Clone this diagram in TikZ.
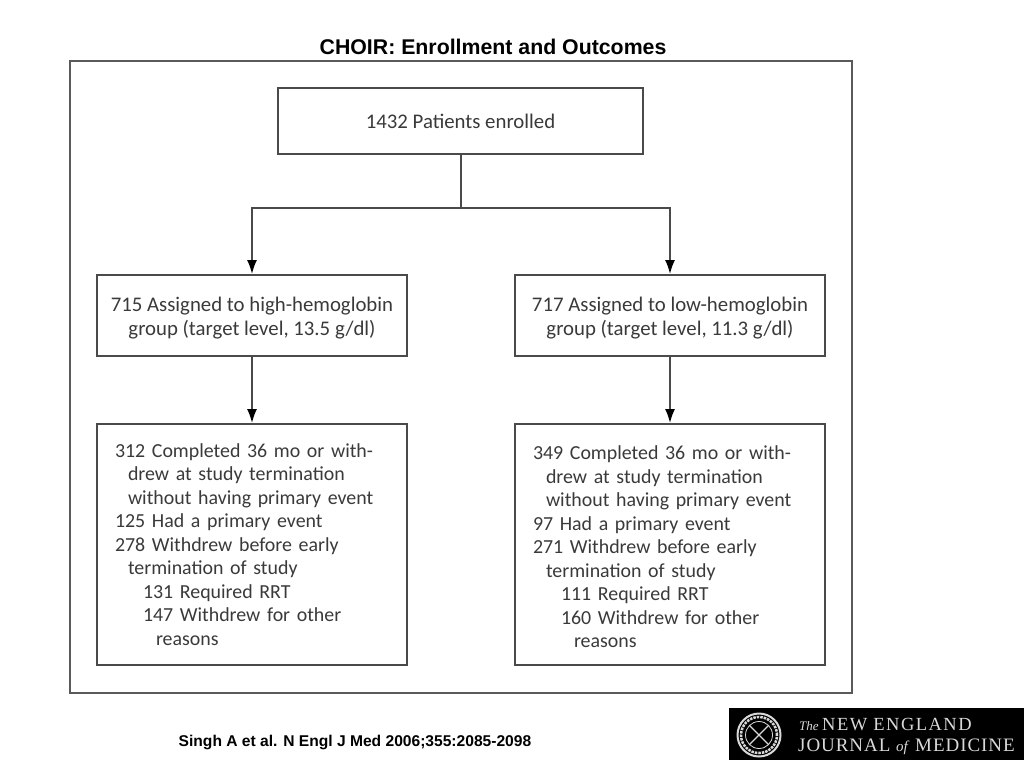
\documentclass[tikz,border=0pt]{standalone}
\usepackage{fontspec}
\setmainfont{Carlito}
\newfontfamily\headfont{Liberation Sans}
\newfontfamily\logofont{Liberation Serif}
\usetikzlibrary{arrows.meta,calc}
\definecolor{frameg}{HTML}{5A5A5A}
\definecolor{boxg}{HTML}{4A4A4A}
\definecolor{inkg}{HTML}{3A3A3A}
\newcommand{\ind}[2]{\hspace*{#1pt}#2\par}
\newcommand{\lowerstrut}{\rule{0pt}{19pt}}
\tikzset{
  x=1pt,y=-1pt,
  frame/.style={draw=frameg,line width=2.4pt,minimum width=782pt,minimum height=632pt,inner sep=0pt},
  flowbox/.style={draw=boxg,line width=1.9pt,inner sep=0pt,text=inkg,font=\fontsize{20.8}{24}\selectfont,align=center},
  shortbox/.style={flowbox,minimum width=310pt,minimum height=81pt},
  listbox/.style={flowbox,font=\fontsize{19.9}{23.5}\selectfont,minimum width=310pt,minimum height=241pt,align=left,text width=274pt},
  link/.style={draw=boxg,line width=1.8pt},
  arrowlink/.style={link,-{Latex[length=14pt,width=10pt,color=black]}},
  heading/.style={font=\headfont\bfseries,inner sep=0pt,text=black},
  logotext/.style={font=\logofont,text=white!85!black,inner sep=0pt,anchor=base west}
}
\begin{document}
\begin{tikzpicture}
\useasboundingbox (0,0) rectangle (1024,768);
\fill[white] (0,0) rectangle (1024,768);
\node[heading,font=\headfont\bfseries\fontsize{21.3}{24}\selectfont] (title) at (493,47) {CHOIR: Enrollment and Outcomes};
\node[frame] (outer) at (461,377) {};
\node[flowbox,minimum width=365pt,minimum height=66pt] (enrolled) at (460.5,121) {1432 Patients enrolled};
\node[shortbox] (high) at (252,315.5) {\lowerstrut 715 Assigned to high-hemoglobin\\group (target level, 13.5 g/dl)};
\node[shortbox] (low) at (670,315.5) {\lowerstrut 717 Assigned to low-hemoglobin\\group (target level, 11.3 g/dl)};
\node[listbox] (highout) at (252,544.5) {%
\ind{0}{312 Completed 36 mo or with-}%
\ind{13}{drew at study termination}%
\ind{13}{without having primary event}%
\ind{0}{125 Had a primary event}%
\ind{0}{278 Withdrew before early}%
\ind{13}{termination of study}%
\ind{28}{131 Required RRT}%
\ind{28}{147 Withdrew for other}%
\ind{41}{reasons}};
\node[listbox] (lowout) at (670,544.5) {%
\vspace*{-5pt}\par
\ind{0}{349 Completed 36 mo or with-}%
\ind{13}{drew at study termination}%
\ind{13}{without having primary event}%
\ind{0}{97 Had a primary event}%
\ind{0}{271 Withdrew before early}%
\ind{13}{termination of study}%
\ind{28}{111 Required RRT}%
\ind{28}{160 Withdrew for other}%
\ind{41}{reasons}};
\coordinate (split) at ($(enrolled.south)+(0.5,53)$);
\draw[link] ($(enrolled.south)+(0.5,0)$) -- (split);
\draw[arrowlink] (split) -| (high.north);
\draw[arrowlink] (split) -| (low.north);
\draw[arrowlink] (high.south) -- (highout.north);
\draw[arrowlink] (low.south) -- (lowout.north);
\node[heading,font=\headfont\bfseries\fontsize{15.6}{18}\selectfont] (cite) at (355,742.5) {Singh A et al. N Engl J Med 2006;355:2085-2098};
% logo
\node[fill=black,minimum width=295pt,minimum height=52pt,inner sep=0pt] (logo) at (876.5,734) {};
\node[draw=white!85!black,line width=2pt,circle,minimum size=43pt,inner sep=0pt] (seal) at (759,735) {};
\node[draw=white!85!black,line width=2.5pt,densely dotted,circle,minimum size=36pt,inner sep=0pt] (sealmid) at (759,735) {};
\node[draw=white!85!black,line width=.8pt,circle,minimum size=27pt,inner sep=0pt] (sealin) at (759,735) {};
\draw[white!85!black,line width=1.2pt] (sealin.north west) -- (sealin.south east);
\draw[white!85!black,line width=1.2pt] (sealin.north east) -- (sealin.south west);
\node[logotext,font=\logofont\itshape\fontsize{13}{14}\selectfont] (lthe) at (799,730) {The};
\node[logotext,font=\logofont\fontsize{18.5}{20}\selectfont] (lne) at (822,730) {\addfontfeature{LetterSpace=8}NEW ENGLAND};
\node[logotext,font=\logofont\fontsize{19}{20}\selectfont] (lj) at (798,751) {\addfontfeature{LetterSpace=5}JOURNAL};
\node[logotext,font=\logofont\itshape\fontsize{15}{16}\selectfont] (lof) at (896,751) {of};
\node[logotext,font=\logofont\fontsize{19}{20}\selectfont] (lm) at (915,751) {\addfontfeature{LetterSpace=5}MEDICINE};
\end{tikzpicture}
\end{document}
